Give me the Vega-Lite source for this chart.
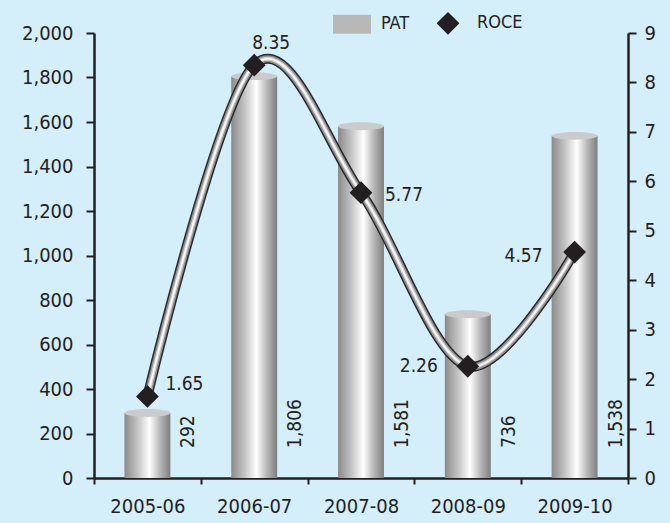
{
  "$schema": "https://vega.github.io/schema/vega-lite/v6.json",
  "width": 534,
  "height": 445,
  "autosize": {"type": "none"},
  "padding": {"left": 94, "top": 33, "right": 42, "bottom": 45},
  "background": "#d4eefa",
  "config": {
    "view": {"stroke": null},
    "font": "DejaVu Sans Condensed, sans-serif",
    "axis": {
      "domainColor": "#231f20",
      "domainWidth": 2.5,
      "tickColor": "#231f20",
      "tickWidth": 2,
      "labelFontSize": 20,
      "labelColor": "#231f20",
      "labelFont": "DejaVu Sans Condensed, sans-serif",
      "grid": false,
      "title": null
    }
  },
  "data": {
    "values": [
      {"Year": "2005-06", "PAT": 292, "ROCE": 1.65},
      {"Year": "2006-07", "PAT": 1806, "ROCE": 8.35},
      {"Year": "2007-08", "PAT": 1581, "ROCE": 5.77},
      {"Year": "2008-09", "PAT": 736, "ROCE": 2.26},
      {"Year": "2009-10", "PAT": 1538, "ROCE": 4.57}
    ]
  },
  "encoding": {
    "x": {
      "field": "Year",
      "type": "nominal",
      "sort": null,
      "scale": {"paddingInner": 0, "paddingOuter": 0},
      "axis": {"tickBand": "extent", "tickSize": 6, "labelPadding": 12, "labelAngle": 0, "title": null}
    }
  },
  "layer": [
    {
      "encoding": {
        "y": {
          "field": "PAT",
          "type": "quantitative",
          "scale": {"domain": [0, 2000]},
          "axis": {"orient": "left", "values": [0, 200, 400, 600, 800, 1000, 1200, 1400, 1600, 1800, 2000], "format": ",d", "tickSize": 8, "labelPadding": 13, "title": null}
        }
      },
      "layer": [
        {
          "mark": {
            "type": "bar",
            "width": {"band": 0.43},
            "color": {
              "gradient": "linear",
              "x1": 0, "x2": 1, "y1": 0, "y2": 0,
              "stops": [
                {"offset": 0, "color": "#8a8a8a"},
                {"offset": 0.3, "color": "#c6c6c6"},
                {"offset": 0.55, "color": "#ffffff"},
                {"offset": 0.78, "color": "#b6b6b6"},
                {"offset": 1, "color": "#7e7e7e"}
              ]
            }
          }
        },
        {
          "mark": {
            "type": "point",
            "shape": "M-1,0A1,0.17,0,1,1,1,0A1,0.17,0,1,1,-1,0Z",
            "size": 2116,
            "filled": true,
            "color": "#c9cbcd",
            "opacity": 1
          }
        },
        {
          "mark": {"type": "text", "angle": 270, "align": "left", "baseline": "middle", "fontSize": 19, "color": "#231f20"},
          "encoding": {
            "x": {"field": "Year", "type": "nominal", "sort": null, "bandPosition": 0.884},
            "y": {"datum": 135, "type": "quantitative"},
            "text": {"field": "PAT", "type": "quantitative", "format": ",d"}
          }
        }
      ]
    },
    {
      "encoding": {
        "y": {
          "field": "ROCE",
          "type": "quantitative",
          "scale": {"domain": [0, 9]},
          "axis": {"orient": "right", "values": [0, 1, 2, 3, 4, 5, 6, 7, 8, 9], "tickSize": 8, "labelPadding": 8, "title": null}
        }
      },
      "layer": [
        {"mark": {"type": "line", "interpolate": "cardinal", "stroke": "#2a2a2a", "strokeWidth": 10, "strokeCap": "round"}},
        {"mark": {"type": "line", "interpolate": "cardinal", "stroke": "#8f8f8f", "strokeWidth": 7, "strokeCap": "round"}},
        {"mark": {"type": "line", "interpolate": "cardinal", "stroke": "#d2d2d2", "strokeWidth": 4, "strokeCap": "round"}},
        {"mark": {"type": "line", "interpolate": "cardinal", "stroke": "#ffffff", "strokeWidth": 1.5, "strokeCap": "round"}},
        {
          "mark": {"type": "point", "size": 1444, "filled": true, "opacity": 1, "strokeWidth": 0},
          "encoding": {
            "fill": {
              "datum": "ROCE",
              "scale": {"domain": ["PAT", "ROCE"], "range": ["#b8b8b8", "#231f20"]},
              "legend": {
                "orient": "none",
                "legendX": 239,
                "legendY": -29,
                "direction": "horizontal",
                "title": null,
                "padding": 0,
                "labelFontSize": 18,
                "labelFont": "DejaVu Sans Condensed, sans-serif",
                "labelColor": "#231f20",
                "symbolSize": 1444,
                "labelOffset": 10,
                "columnPadding": 19,
                "symbolStrokeWidth": 0,
                "encode": {
                  "symbols": {
                    "update": {
                      "fill": {"signal": "datum.value === 'PAT' ? {gradient: 'linear', x1: 0, x2: 1, y1: 0, y2: 0, stops: [{offset: 0, color: '#8a8a8a'}, {offset: 0.3, color: '#c6c6c6'}, {offset: 0.55, color: '#ffffff'}, {offset: 0.78, color: '#b6b6b6'}, {offset: 1, color: '#7e7e7e'}]} : '#231f20'"},
                      "opacity": {"value": 1},
                      "strokeWidth": {"value": 0}
                    }
                  }
                }
              }
            },
            "shape": {
              "datum": "ROCE",
              "scale": {"domain": ["PAT", "ROCE"], "range": ["M-1,-0.5H1V0.5H-1Z", "M0,-0.6L0.6,0L0,0.6L-0.6,0Z"]},
              "legend": {
                "orient": "none",
                "legendX": 239,
                "legendY": -29,
                "direction": "horizontal",
                "title": null,
                "padding": 0,
                "labelFontSize": 18,
                "labelFont": "DejaVu Sans Condensed, sans-serif",
                "labelColor": "#231f20",
                "symbolSize": 1444,
                "labelOffset": 10,
                "columnPadding": 19,
                "symbolStrokeWidth": 0
              }
            }
          }
        },
        {
          "transform": [{"filter": "datum.Year === '2005-06'"}],
          "mark": {"type": "text", "align": "left", "baseline": "alphabetic", "dx": 18, "dy": -6, "fontSize": 19, "color": "#231f20"},
          "encoding": {"text": {"field": "ROCE", "type": "quantitative", "format": ".2f"}}
        },
        {
          "transform": [{"filter": "datum.Year === '2006-07'"}],
          "mark": {"type": "text", "align": "center", "baseline": "alphabetic", "dx": 17, "dy": -16, "fontSize": 19, "color": "#231f20"},
          "encoding": {"text": {"field": "ROCE", "type": "quantitative", "format": ".2f"}}
        },
        {
          "transform": [{"filter": "datum.Year === '2007-08'"}],
          "mark": {"type": "text", "align": "left", "baseline": "alphabetic", "dx": 24, "dy": 8, "fontSize": 19, "color": "#231f20"},
          "encoding": {"text": {"field": "ROCE", "type": "quantitative", "format": ".2f"}}
        },
        {
          "transform": [{"filter": "datum.Year === '2008-09'"}],
          "mark": {"type": "text", "align": "right", "baseline": "alphabetic", "dx": -30, "dy": 6, "fontSize": 19, "color": "#231f20"},
          "encoding": {"text": {"field": "ROCE", "type": "quantitative", "format": ".2f"}}
        },
        {
          "transform": [{"filter": "datum.Year === '2009-10'"}],
          "mark": {"type": "text", "align": "right", "baseline": "alphabetic", "dx": -32, "dy": 10, "fontSize": 19, "color": "#231f20"},
          "encoding": {"text": {"field": "ROCE", "type": "quantitative", "format": ".2f"}}
        }
      ]
    }
  ],
  "resolve": {"scale": {"y": "independent"}}
}
